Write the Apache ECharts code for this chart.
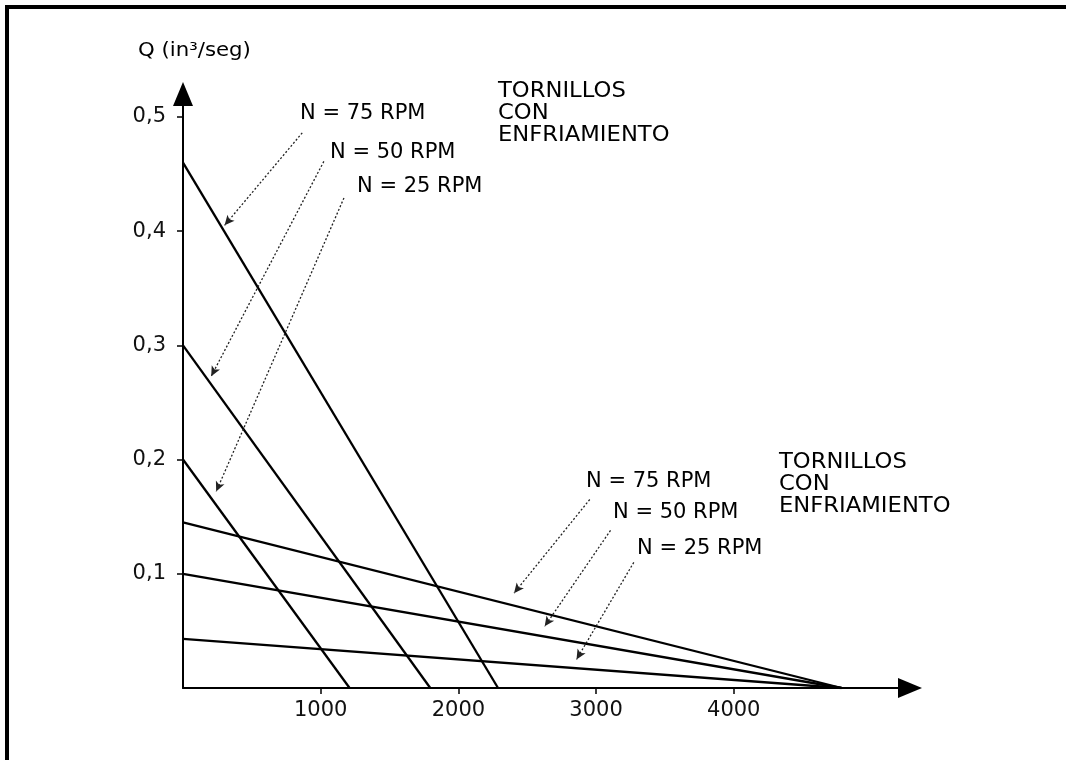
<!DOCTYPE html>
<html>
<head>
<meta charset="utf-8">
<script src="https://cdn.jsdelivr.net/npm/echarts@6/dist/echarts.min.js"></script>
<style>
html,body{margin:0;padding:0;background:#fff;}
#chart{width:1066px;height:760px;}
</style>
</head>
<body>
<div id="chart"></div>
<script>
// ---- data ----
const rpmLabels = ['N = 75 RPM', 'N = 50 RPM', 'N = 25 RPM'];
const blockTitle = 'TORNILLOS\nCON\nENFRIAMIENTO';
const yName = 'Q (in³/seg)';
// upper family (steep lines): Q at zero pressure and pressure where Q = 0
const steepQ0 = [0.46, 0.30, 0.20];
const steepXEnd = [2288, 1796, 1210];
// lower family (flat lines)
const flatQ0 = [0.145, 0.100, 0.043];
const flatXEnd = [4783, 4783, 4783];
const xTicks = [1000, 2000, 3000, 4000];
const yTicks = [0.1, 0.2, 0.3, 0.4, 0.5];

// annotation arrows (data coordinates: start -> arrow tip)
const steepArrows = [
  [[866, 0.486], [302, 0.405]],
  [[1023, 0.461], [205, 0.273]],
  [[1169, 0.429], [241, 0.172]]
];
const flatArrows = [
  [[2954, 0.165], [2404, 0.083]],
  [[3105, 0.138], [2627, 0.054]],
  [[3274, 0.110], [2858, 0.025]]
];

const FONT = 'DejaVu Sans';
const chart = echarts.init(document.getElementById('chart'));

function lineSeries(q0, xEnd, arrow) {
  return {
    type: 'line',
    data: [[0, q0], [xEnd, 0]],
    showSymbol: false,
    silent: true,
    lineStyle: { color: '#000', width: 2.3 },
    markLine: {
      silent: true,
      symbol: ['none', 'arrow'],
      symbolSize: [7, 10],
      label: { show: false },
      lineStyle: { type: [2, 2], width: 1.3, color: '#222' },
      data: [[{ coord: arrow[0] }, { coord: arrow[1] }]]
    }
  };
}

const series = [];
for (let i = 0; i < 3; i++) series.push(lineSeries(steepQ0[i], steepXEnd[i], steepArrows[i]));
for (let i = 0; i < 3; i++) series.push(lineSeries(flatQ0[i], flatXEnd[i], flatArrows[i]));

function txt(x, y, text, scaleX, extra, size) {
  return {
    type: 'text', x: x, y: y, scaleX: scaleX || 1, silent: true,
    style: Object.assign({ text: text, font: (size || 21) + 'px "' + FONT + '"', fill: '#000', verticalAlign: 'middle' }, extra || {})
  };
}

const option = {
  animation: false,
  backgroundColor: '#fff',
  grid: { left: 183, right: 156, top: 94, bottom: 72 },
  xAxis: {
    type: 'value', min: 0, max: 5280,
    axisLine: { show: true, lineStyle: { color: '#000', width: 2 }, symbol: ['none', 'triangle'], symbolSize: [20, 24] },
    axisTick: { show: true, customValues: xTicks, length: 6, lineStyle: { color: '#000', width: 1.5 } },
    axisLabel: { customValues: xTicks, fontFamily: FONT, fontSize: 21, color: '#111', margin: 12,
      formatter: v => String(v) },
    splitLine: { show: false }
  },
  yAxis: {
    type: 'value', min: 0, max: 0.52,
    axisLine: { show: true, lineStyle: { color: '#000', width: 2 }, symbol: ['none', 'triangle'], symbolSize: [20, 24] },
    axisTick: { show: true, customValues: yTicks, length: 6, lineStyle: { color: '#000', width: 1.5 } },
    axisLabel: { customValues: yTicks, fontFamily: FONT, fontSize: 21, color: '#111', margin: 17,
      formatter: v => v.toFixed(1).replace('.', ',') },
    splitLine: { show: false }
  },
  series: series,
  graphic: [
    { type: 'rect', silent: true, shape: { x: 7, y: 7, width: 1200, height: 1000 },
      style: { fill: 'none', stroke: '#000', lineWidth: 4 } },
    txt(138, 51, yName, 1.12, null, 19),
    txt(300, 114, rpmLabels[0], 1.0),
    txt(330, 153, rpmLabels[1], 1.0),
    txt(357, 187, rpmLabels[2], 1.0),
    txt(498, 81, blockTitle, 1.08, { verticalAlign: 'top', lineHeight: 22 }),
    txt(586, 482, rpmLabels[0], 1.0),
    txt(613, 513, rpmLabels[1], 1.0),
    txt(637, 549, rpmLabels[2], 1.0),
    txt(779, 452, blockTitle, 1.08, { verticalAlign: 'top', lineHeight: 22 })
  ]
};
chart.setOption(option);
</script>
</body>
</html>
